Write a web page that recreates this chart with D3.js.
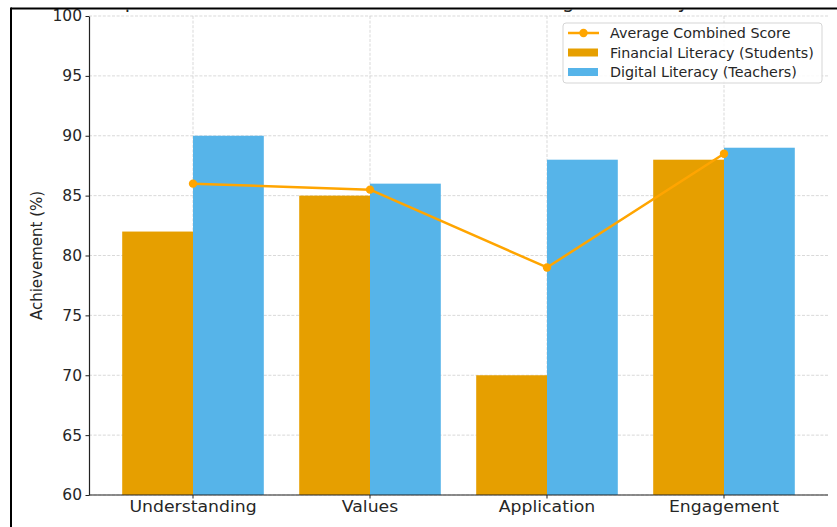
<!DOCTYPE html>
<html>
<head>
<meta charset="utf-8">
<script src="https://cdn.jsdelivr.net/npm/d3@7"></script>
<style>
  html, body { margin: 0; padding: 0; background: #fff; }
  svg { display: block; font-family: "DejaVu Sans", sans-serif; }
</style>
</head>
<body>
<svg id="chart" width="837" height="527"></svg>
<script>
// ---- data ----
const categories = ["Understanding", "Values", "Application", "Engagement"];
const financialStudents = [82, 85, 70, 88];
const digitalTeachers = [90, 86, 88, 89];
const averageCombined = [86, 85.5, 79, 88.5];
const yTicks = [60, 65, 70, 75, 80, 85, 90, 95, 100];
const seriesNames = ["Average Combined Score", "Financial Literacy (Students)", "Digital Literacy (Teachers)"];
const titleText = "Impact of Islamic Education on Financial and Digital Literacy Outcomes";
const yLabel = "Achievement (%)";

// ---- layout ----
const W = 837, H = 527;
const plot = { left: 89, right: 828, top: 16, bottom: 495 };
const colFin = "#E69F00", colDig = "#56B4E9", colLine = "#FFA500";

const svg = d3.select("#chart");
svg.append("rect").attr("width", W).attr("height", H).attr("fill", "#fff");

const x = d3.scaleBand().domain(categories).range([plot.left, plot.right])
  .paddingInner(0.2).paddingOuter(0.1876);
const xSub = d3.scaleBand().domain(["fin", "dig"]).range([0, x.bandwidth()]).padding(0);
const y = d3.scaleLinear().domain([60, 100]).range([plot.bottom, plot.top]);
const cx = c => x(c) + x.bandwidth() / 2;

// ---- title (cut off by the frame) ----
svg.append("clipPath").attr("id", "titleClip")
  .append("rect").attr("x", 0).attr("y", 9.5).attr("width", W).attr("height", 20);
svg.append("text").attr("clip-path", "url(#titleClip)")
  .attr("x", 100).attr("y", 7.5).attr("font-size", 19.5).attr("fill", "#222")
  .text(titleText);

// ---- grid ----
const grid = svg.append("g").attr("stroke", "#cfcfcf").attr("stroke-width", 0.8)
  .attr("stroke-dasharray", "3,1.6");
grid.selectAll("line.h").data(yTicks).join("line").attr("class", "h")
  .attr("x1", plot.left).attr("x2", plot.right)
  .attr("y1", d => y(d)).attr("y2", d => y(d));
grid.selectAll("line.v").data(categories).join("line").attr("class", "v")
  .attr("x1", d => cx(d)).attr("x2", d => cx(d))
  .attr("y1", plot.top).attr("y2", plot.bottom);

// ---- bars ----
const bars = svg.append("g");
bars.selectAll("rect.fin").data(categories).join("rect").attr("class", "fin")
  .attr("x", d => x(d) + xSub("fin")).attr("width", xSub.bandwidth())
  .attr("y", (d, i) => y(financialStudents[i]))
  .attr("height", (d, i) => y(60) - y(financialStudents[i]))
  .attr("fill", colFin);
bars.selectAll("rect.dig").data(categories).join("rect").attr("class", "dig")
  .attr("x", d => x(d) + xSub("dig")).attr("width", xSub.bandwidth())
  .attr("y", (d, i) => y(digitalTeachers[i]))
  .attr("height", (d, i) => y(60) - y(digitalTeachers[i]))
  .attr("fill", colDig);

// ---- line ----
const line = d3.line().x((d, i) => cx(categories[i])).y(d => y(d));
svg.append("path").datum(averageCombined).attr("d", line)
  .attr("fill", "none").attr("stroke", colLine).attr("stroke-width", 2.5)
  .attr("stroke-linejoin", "round");
svg.selectAll("circle.avg").data(averageCombined).join("circle").attr("class", "avg")
  .attr("cx", (d, i) => cx(categories[i])).attr("cy", d => y(d)).attr("r", 4.2)
  .attr("fill", colLine);

// ---- axes ----
const yAxis = svg.append("g").attr("transform", `translate(${plot.left},0)`)
  .call(d3.axisLeft(y).tickValues(yTicks).tickSize(3.5).tickPadding(3.5).tickSizeOuter(0));
yAxis.select(".domain").attr("stroke", "#222").attr("stroke-width", 1.2);
yAxis.selectAll(".tick line").attr("stroke", "#222");
yAxis.selectAll("text").attr("font-size", 15.5).attr("fill", "#262626")
  .attr("font-family", "DejaVu Sans");

const xAxis = svg.append("g").attr("transform", `translate(0,${plot.bottom})`)
  .call(d3.axisBottom(x).tickSize(3.5).tickPadding(2.6).tickSizeOuter(0));
xAxis.select(".domain").attr("stroke", "#222").attr("stroke-width", 1.2)
  .attr("d", `M${plot.left},0H${plot.right}`);
xAxis.selectAll(".tick line").attr("stroke", "#222");
xAxis.selectAll("text").attr("font-size", 16).attr("fill", "#262626")
  .attr("font-family", "DejaVu Sans").attr("transform", "scale(1.08,1)");

svg.append("text").attr("transform", `translate(42,${(plot.top + plot.bottom) / 2}) rotate(-90)`)
  .attr("text-anchor", "middle").attr("font-size", 15).attr("fill", "#262626")
  .text(yLabel);

// ---- legend ----
const lg = svg.append("g").attr("transform", "translate(563,23)");
lg.append("rect").attr("width", 259).attr("height", 60).attr("rx", 3)
  .attr("fill", "#fff").attr("fill-opacity", 0.85).attr("stroke", "#d5d5d5");
const rowY = [10, 29.5, 49];
lg.append("line").attr("x1", 5).attr("x2", 36).attr("y1", rowY[0]).attr("y2", rowY[0])
  .attr("stroke", colLine).attr("stroke-width", 2.5);
lg.append("circle").attr("cx", 20.5).attr("cy", rowY[0]).attr("r", 4.2).attr("fill", colLine);
lg.append("rect").attr("x", 5).attr("y", rowY[1] - 4).attr("width", 30).attr("height", 8).attr("fill", colFin);
lg.append("rect").attr("x", 5).attr("y", rowY[2] - 4).attr("width", 30).attr("height", 8).attr("fill", colDig);
lg.selectAll("text").data(seriesNames).join("text")
  .attr("x", 47).attr("y", (d, i) => rowY[i]).attr("dy", "0.36em")
  .attr("font-size", 14.3).attr("fill", "#262626").text(d => d);

// ---- screenshot frame ----
svg.append("line").attr("x1", 11).attr("x2", W).attr("y1", 8.5).attr("y2", 8.5)
  .attr("stroke", "#000").attr("stroke-width", 2);
svg.append("line").attr("x1", 11).attr("x2", 11).attr("y1", 7.5).attr("y2", H)
  .attr("stroke", "#000").attr("stroke-width", 2);
</script>
</body>
</html>
